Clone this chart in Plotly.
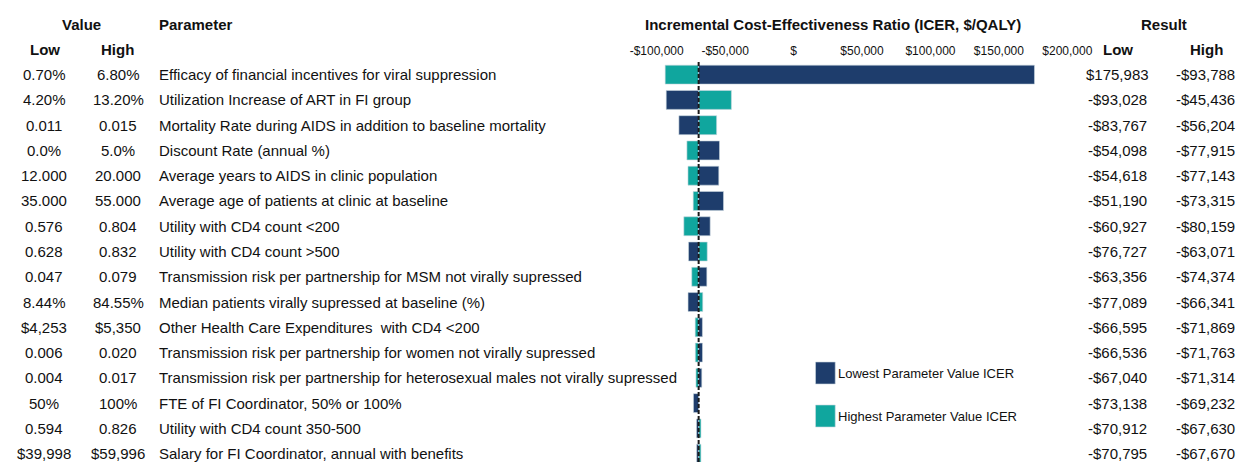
"""Tornado diagram: one-way sensitivity analysis of the ICER."""

import plotly.graph_objects as go

# parametros (linha a linha, de cima para baixo)
parameters = [
    "Efficacy of financial incentives for viral suppression",
    "Utilization Increase of ART in FI group",
    "Mortality Rate during AIDS in addition to baseline mortality",
    "Discount Rate (annual %)",
    "Average years to AIDS in clinic population",
    "Average age of patients at clinic at baseline",
    "Utility with CD4 count &lt;200",
    "Utility with CD4 count >500",
    "Transmission risk per partnership for MSM not virally supressed",
    "Median patients virally supressed at baseline (%)",
    "Other Health Care Expenditures\u00a0 with CD4 &lt;200",
    "Transmission risk per partnership for women not virally supressed",
    "Transmission risk per partnership for heterosexual males not virally supressed",
    "FTE of FI Coordinator, 50% or 100%",
    "Utility with CD4 count 350-500",
    "Salary for FI Coordinator, annual with benefits",
]
value_low = ["0.70%", "4.20%", "0.011", "0.0%", "12.000", "35.000", "0.576", "0.628",
             "0.047", "8.44%", "$4,253", "0.006", "0.004", "50%", "0.594", "$39,998"]
value_high = ["6.80%", "13.20%", "0.015", "5.0%", "20.000", "55.000", "0.804", "0.832",
              "0.079", "84.55%", "$5,350", "0.020", "0.017", "100%", "0.826", "$59,996"]
icer_low = [175983, -93028, -83767, -54098, -54618, -51190, -60927, -76727,
            -63356, -77089, -66595, -66536, -67040, -73138, -70912, -70795]
icer_high = [-93788, -45436, -56204, -77915, -77143, -73315, -80159, -63071,
             -74374, -66341, -71869, -71763, -71314, -69232, -67630, -67670]
base_icer = -69350

tick_vals = [-100000, -50000, 0, 50000, 100000, 150000, 200000]
tick_text = ["-$100,000", "-$50,000", "$", "$50,000", "$100,000", "$150,000", "$200,000"]

NAVY = "#1e3d6c"
TEAL = "#10a69e"
FONT = "Liberation Sans, Arial, sans-serif"
W, H = 1251, 462


def money(v):
    return f"-${abs(v):,}" if v < 0 else f"${v:,}"


def px(x):
    return x / W


rows = list(range(len(parameters)))

fig = go.Figure()
fig.add_trace(go.Bar(
    y=rows, x=[v - base_icer for v in icer_high], base=base_icer,
    orientation="h", name="Highest Parameter Value ICER",
    marker=dict(color=TEAL, line=dict(color="#c9d6df", width=0.6)),
    width=0.75, showlegend=False,
))
fig.add_trace(go.Bar(
    y=rows, x=[v - base_icer for v in icer_low], base=base_icer,
    orientation="h", name="Lowest Parameter Value ICER",
    marker=dict(color=NAVY, line=dict(color="#c9d6df", width=0.6)),
    width=0.75, showlegend=False,
))

# linha tracejada no caso base
fig.add_shape(type="line", xref="x", yref="y", x0=base_icer, x1=base_icer,
              y0=-0.5, y1=15.6, line=dict(color="#1a1a1a", width=2, dash="4px,2px"))

ann = []
txt = dict(size=15, color="#111", family=FONT)
bold = dict(size=15, color="#111", family=FONT, weight="bold")
for i in rows:
    ann.append(dict(x=px(38), y=i, text=value_low[i], font=txt))
    ann.append(dict(x=px(113), y=i, text=value_high[i], font=txt))
    ann.append(dict(x=px(152), y=i, text=parameters[i], font=txt, xanchor="left"))
    ann.append(dict(x=px(1128), y=i, text=money(icer_low[i]), font=txt))
    ann.append(dict(x=px(1217), y=i, text=money(icer_high[i]), font=txt))
for a in ann:
    a.update(xref="paper", yref="y", showarrow=False, yanchor="middle")
    a.setdefault("xanchor", "center")

headers = [
    (76, 1.095, "Value", "center"),
    (152, 1.095, "Parameter", "left"),
    (39, 1.0325, "Low", "center"),
    (112, 1.0325, "High", "center"),
    (839, 1.095, "Incremental Cost-Effectiveness Ratio (ICER, $/QALY)", "center"),
    (1175, 1.095, "Result", "center"),
    (1128, 1.0325, "Low", "center"),
    (1218, 1.0325, "High", "center"),
]
for x, y, t, anchor in headers:
    ann.append(dict(x=px(x), y=y, text=t, xref="paper", yref="paper", showarrow=False,
                    xanchor=anchor, yanchor="middle", font=bold))

# legenda manual (quadrados grandes como no original)
legend_items = [(0.2225, NAVY, "Lowest Parameter Value ICER"),
                (0.115, TEAL, "Highest Parameter Value ICER")]
for y, color, label in legend_items:
    fig.add_shape(type="rect", xref="paper", yref="paper",
                  x0=px(821), x1=px(841), y0=y - 0.0275, y1=y + 0.0275,
                  fillcolor=color, line=dict(color="#c9d6df", width=0.6))
    ann.append(dict(x=px(842), y=y, text=label, xref="paper", yref="paper",
                    showarrow=False, xanchor="left", yanchor="middle",
                    font=dict(size=13, color="#111", family=FONT)))

x_lo = (640 - 798.7) / 1.39 * 1000
x_hi = (1090 - 798.7) / 1.39 * 1000
fig.update_layout(
    width=W, height=H,
    autosize=False,
    barmode="overlay",
    annotations=ann,
    plot_bgcolor="white",
    paper_bgcolor="white",
    margin=dict(l=0, r=0, t=62, b=0),
    xaxis=dict(domain=[px(640), px(1090)], range=[x_lo, x_hi], side="top",
               tickvals=tick_vals, ticktext=tick_text, ticks="", showgrid=False,
               zeroline=False, showline=False, ticklabelstandoff=4,
               tickfont=dict(size=12, color="#111", family=FONT)),
    yaxis=dict(range=[15.33, -0.5], showticklabels=False, showgrid=False,
               zeroline=False, showline=False, ticks=""),
    showlegend=False,
)

fig.write_html("out.html", config={"displayModeBar": False, "responsive": False},
               post_script="document.body.style.margin='0px';")
